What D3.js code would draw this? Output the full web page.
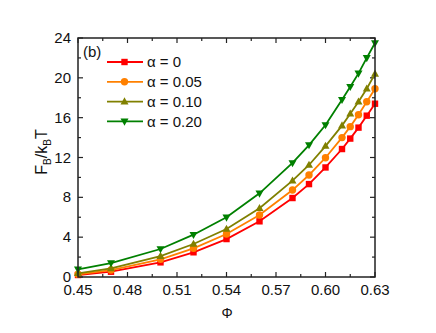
<!DOCTYPE html>
<html><head><meta charset="utf-8">
<script src="https://cdn.jsdelivr.net/npm/d3@7"></script>
<style>body{margin:0;background:#fff}svg{display:block}text{font-family:"Liberation Sans",Arial,sans-serif}</style>
</head><body><svg id="c" width="436" height="333"></svg>
<script>
const phi = [0.45,0.47,0.50,0.52,0.54,0.56,0.58,0.59,0.60,0.61,0.615,0.62,0.625,0.63];
const alpha0   = [0.2,0.53,1.47,2.48,3.81,5.59,7.93,9.33,11.0,12.85,13.9,15.0,16.2,17.4];
const alpha005 = [0.27,0.7,1.78,2.88,4.32,6.22,8.73,10.24,11.98,14.0,15.1,16.3,17.6,18.9];
const alpha010 = [0.37,0.87,2.1,3.31,4.82,6.9,9.67,11.25,13.15,15.2,16.4,17.6,18.9,20.4];
const alpha020 = [0.77,1.4,2.81,4.25,5.99,8.4,11.45,13.25,15.26,17.8,19.1,20.45,22.0,23.5];
const seriesNames = ["α = 0","α = 0.05","α = 0.10","α = 0.20"];
const colors = ["#ff0000","#ff8000","#808000","#008000"];
const symbols = ["square","circle","triUp","triDown"];
const xTicks = [0.45,0.48,0.51,0.54,0.57,0.60,0.63];
const yTicks = [0,4,8,12,16,20,24];

const svg = d3.select("#c");
const L=78,R=375,T=38,B=277;
const x = d3.scaleLinear().domain([0.45,0.63]).range([L,R]);
const y = d3.scaleLinear().domain([0,24]).range([B,T]);
const series=[alpha0,alpha005,alpha010,alpha020];
const axCol="#222";

// minor ticks
const xMinor = d3.range(0.465,0.63,0.03);
const yMinor = d3.range(2,24,4);
const g = svg.append("g");
function tickLines(vals, scale, horiz, len){
  vals.forEach(v=>{
    const p = scale(v);
    if(horiz){
      g.append("line").attr("x1",p).attr("x2",p).attr("y1",B).attr("y2",B-len).attr("stroke",axCol).attr("stroke-width",1.2);
      g.append("line").attr("x1",p).attr("x2",p).attr("y1",T).attr("y2",T+len).attr("stroke",axCol).attr("stroke-width",1.2);
    } else {
      g.append("line").attr("y1",p).attr("y2",p).attr("x1",L).attr("x2",L+len).attr("stroke",axCol).attr("stroke-width",1.2);
      g.append("line").attr("y1",p).attr("y2",p).attr("x1",R).attr("x2",R-len).attr("stroke",axCol).attr("stroke-width",1.2);
    }
  });
}
tickLines(xTicks,x,true,5); tickLines(xMinor,x,true,3);
tickLines(yTicks,y,false,5); tickLines(yMinor,y,false,3);

// tick labels
svg.append("g").selectAll("text").data(xTicks).join("text")
  .attr("x",d=>x(d)).attr("y",295).attr("text-anchor","middle").attr("font-size",15).attr("fill","#111")
  .text(d=>d3.format(".2f")(d));
svg.append("g").selectAll("text").data(yTicks).join("text")
  .attr("x",71).attr("y",d=>y(d)+5).attr("text-anchor","end").attr("font-size",15).attr("fill","#111")
  .text(d=>d);

// lines and markers
const line = d3.line().x((d,i)=>x(phi[i])).y(d=>y(d));
function marker(sel, type, col){
  if(type==="square") sel.append("rect").attr("x",-3.2).attr("y",-3.2).attr("width",6.4).attr("height",6.4).attr("fill",col);
  else if(type==="circle") sel.append("circle").attr("r",3.7).attr("fill",col);
  else if(type==="triUp") sel.append("path").attr("d","M0,-4.3L4,2.8L-4,2.8Z").attr("fill",col);
  else sel.append("path").attr("d","M0,4.3L4,-2.8L-4,-2.8Z").attr("fill",col);
}
series.forEach((s,k)=>{
  svg.append("path").attr("d",line(s)).attr("fill","none").attr("stroke",colors[k]).attr("stroke-width",1.8);
  s.forEach((v,i)=>{
    const m = svg.append("g").attr("transform",`translate(${x(phi[i])},${y(v)})`);
    marker(m,symbols[k],colors[k]);
  });
});

// frame
svg.append("rect").attr("x",L).attr("y",T).attr("width",R-L).attr("height",B-T).attr("fill","none").attr("stroke",axCol).attr("stroke-width",1.5);

// legend
svg.append("text").attr("x",83).attr("y",57).attr("font-size",15).attr("fill","#111").text("(b)");
seriesNames.forEach((n,k)=>{
  const yy = 62 + k*19.8;
  svg.append("line").attr("x1",107).attr("x2",143).attr("y1",yy).attr("y2",yy).attr("stroke",colors[k]).attr("stroke-width",1.8);
  const m = svg.append("g").attr("transform",`translate(124.5,${yy})`);
  marker(m,symbols[k],colors[k]);
  svg.append("text").attr("x",147).attr("y",yy+5.3).attr("font-size",15).attr("fill","#111").text(n);
});

// axis labels
const yl = svg.append("text").attr("transform","translate(47,152) rotate(-90)").attr("text-anchor","middle").attr("font-size",16).attr("fill","#111");
yl.append("tspan").text("F");
yl.append("tspan").attr("font-size",10).attr("dy",4).text("B");
yl.append("tspan").attr("dy",-4).text("/k");
yl.append("tspan").attr("font-size",10).attr("dy",4).text("B");
yl.append("tspan").attr("dy",-4).text("T");
svg.append("text").attr("x",227).attr("y",318).attr("text-anchor","middle").attr("font-size",14).attr("fill","#111").text("Φ");
</script></body></html>
